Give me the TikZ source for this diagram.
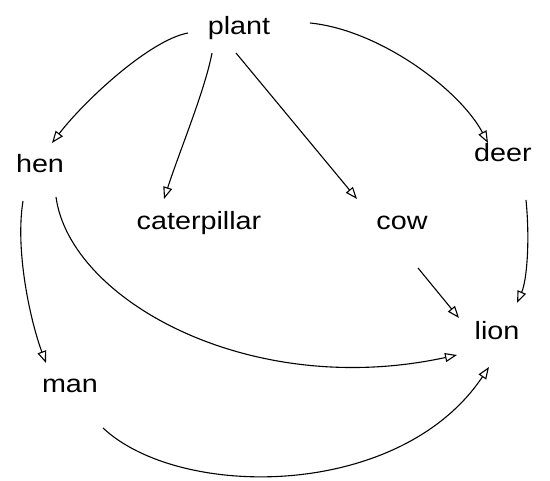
\documentclass[tikz,border=0pt]{standalone}
\usepackage{fontspec}
\setmainfont{Liberation Sans}
\usetikzlibrary{arrows.meta}
\newcommand{\lbl}[1]{\scalebox{1.15}[1]{#1}}
\begin{document}
\begin{tikzpicture}[x=1pt,y=-1pt,
  word/.style={anchor=base,inner sep=0pt,font=\fontsize{25}{30}\selectfont},
  link/.style={line width=1.1pt,-{Triangle[open,length=12pt,width=9pt]}}]
\useasboundingbox (0,0) rectangle (550,481);
\node[word] (plant) at (239,35) {\lbl{plant}};
\node[word] (hen) at (40,173) {\lbl{hen}};
\node[word] (cat) at (199,230) {\lbl{caterpillar}};
\node[word] (cow) at (402,230) {\lbl{cow}};
\node[word] (deer) at (503,162) {\lbl{deer}};
\node[word] (lion) at (497,340) {\lbl{lion}};
\node[word] (man) at (70,393) {\lbl{man}};
% plant -> hen
\draw[link] ([shift={(-51,-2)}]plant.base) .. controls +(-38,7) and +(33,-43) .. ([shift={(12,-30)}]hen.base);
% plant -> caterpillar
\draw[link] ([shift={(-27,18)}]plant.base) .. controls +(-7,37) and +(16,-49) .. ([shift={(-35,-31)}]cat.base);
% plant -> cow
\draw[link] ([shift={(-3,18)}]plant.base) -- ([shift={(-45,-31)}]cow.base);
% plant -> deer
\draw[link] ([shift={(71,-12)}]plant.base) .. controls +(70,7) and +(-28,-53) .. ([shift={(-15,-19)}]deer.base);
% deer -> lion
\draw[link] ([shift={(23,38)}]deer.base) .. controls +(4,40) and +(10,-23) .. ([shift={(20,-37)}]lion.base);
% cow -> lion
\draw[link] ([shift={(16,38)}]cow.base) -- ([shift={(-38,-22)}]lion.base);
% hen -> man
\draw[link] ([shift={(-17,28)}]hen.base) .. controls +(-8,49) and +(-16,-43) .. ([shift={(-24,-30)}]man.base);
% hen -> lion
\draw[link] ([shift={(16,24)}]hen.base) .. controls +(14,103) and +(-207,45) .. ([shift={(-40,15)}]lion.base);
% man -> lion
\draw[link] ([shift={(33,35)}]man.base) .. controls +(77,72) and +(-89,133) .. ([shift={(-8,27)}]lion.base);
\end{tikzpicture}
\end{document}
